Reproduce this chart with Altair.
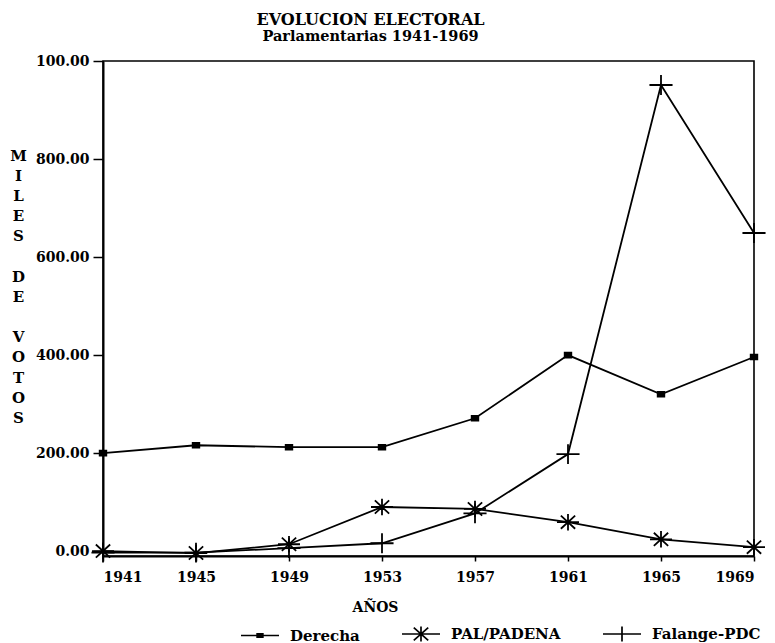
import altair as alt
import pandas as pd

years = [1941, 1945, 1949, 1953, 1957, 1961, 1965, 1969]
derecha = [200, 216, 212, 212, 271, 400, 320, 396]
pal_padena = [0, -4, 14, 90, 86, 59, 24, 8]
falange_pdc = [-3, -3, 6, 16, 77, 198, 951, 649]
series_names = ["Derecha", "PAL/PADENA", "Falange-PDC"]
y_ticks = [0, 200, 400, 600, 800, 1000]

rows = []
for name, vals in zip(series_names, [derecha, pal_padena, falange_pdc]):
    for yr, v in zip(years, vals):
        rows.append({"year": yr, "votos": v, "serie": name})
df = pd.DataFrame(rows)

marker_paths = [
    "M-0.3,-0.22H0.3V0.22H-0.3Z",
    "M-1,0H1M-0.65,-0.6L0.65,0.6M-0.65,0.6L0.65,-0.6M0,-0.75V0.75",
    "M-1.05,0H1.05M0,-0.9V0.9",
]
legend_paths = [
    "M-1,0H1M-0.15,-0.09H0.15V0.09H-0.15ZM-0.15,0H0.15",
    "M-1,0H1M-0.38,-0.34L0.38,0.34M-0.38,0.34L0.38,-0.34M0,-0.4V0.4",
    "M-1,0H1M0,-0.4V0.4",
]

FONT = "DejaVu Serif"
GAP = "\u200b"

x_enc = alt.X(
    "year:Q",
    scale=alt.Scale(domain=[1941, 1969], nice=False, zero=False),
    axis=alt.Axis(
        values=years, format="d", title="AÑOS", grid=False,
        tickSize=5, labelPadding=9, titlePadding=16,
        titleX=272, titleAlign="center",
    ),
)
y_enc = alt.Y(
    "votos:Q",
    scale=alt.Scale(domain=[-10, 1000], nice=False, zero=False),
    axis=alt.Axis(
        values=y_ticks, grid=False, tickSize=10, labelPadding=4,
        labelExpr="datum.value == 1000 ? '100.00' : format(datum.value, '.2f')",
        title=["M", "I", "L", "E", "S", GAP, "D", "E", GAP, "V", "O", "T", "O", "S"],
        titleAngle=0, titleX=-85, titleY=87, titleAlign="center",
        titleBaseline="top", titleLineHeight=20.2, titleFontSize=15,
    ),
)

base = alt.Chart(df)

lines = base.mark_line(color="black", strokeWidth=1.8).encode(
    x=x_enc, y=y_enc, detail="serie:N"
)

points = base.mark_point(
    filled=True, fill="black", stroke="black", strokeWidth=1.8, size=484, opacity=1
).encode(
    x=x_enc, y=y_enc,
    shape=alt.Shape("serie:N", scale=alt.Scale(domain=series_names, range=marker_paths), legend=None),
)

legend_layer = base.mark_point(
    filled=False, color="black", opacity=0
).encode(
    x=x_enc, y=y_enc,
    shape=alt.Shape(
        "serie:N",
        scale=alt.Scale(domain=series_names, range=legend_paths),
        legend=alt.Legend(
            title=None, orient="none", direction="horizontal",
            legendX=137, legendY=553,
            symbolSize=1444, symbolStrokeWidth=1.7,
            symbolStrokeColor="black", symbolOpacity=1,
            labelFontSize=15, labelFont=FONT, labelFontWeight="bold",
            labelColor="black", columnPadding=38, labelOffset=10,
        ),
    ),
)

chart = (
    alt.layer(lines, points, legend_layer)
    .resolve_scale(shape="independent")
    .properties(
        width=651, height=495,
        padding={"left": 103, "top": 61, "right": 21, "bottom": 87},
        autosize=alt.AutoSizeParams(type="none"),
        background="white",
        title=alt.TitleParams(
            "EVOLUCION ELECTORAL", subtitle="Parlamentarias 1941-1969",
            anchor="middle", dx=-58, font=FONT, fontSize=16, fontWeight="bold",
            subtitleFont=FONT, subtitleFontSize=14.5, subtitleFontWeight="bold",
            subtitleColor="black", color="black", offset=11, subtitlePadding=2,
        ),
    )
    .configure_view(stroke="black", strokeWidth=1.6)
    .configure_axis(
        domainColor="black", domainWidth=2, tickColor="black", tickWidth=1.5,
        labelFont=FONT, labelFontSize=14, labelFontWeight="bold", labelColor="black",
        titleFont=FONT, titleFontSize=14, titleFontWeight="bold", titleColor="black",
    )
)

chart.save("out.html", embed_options={"renderer": "svg", "actions": False})
